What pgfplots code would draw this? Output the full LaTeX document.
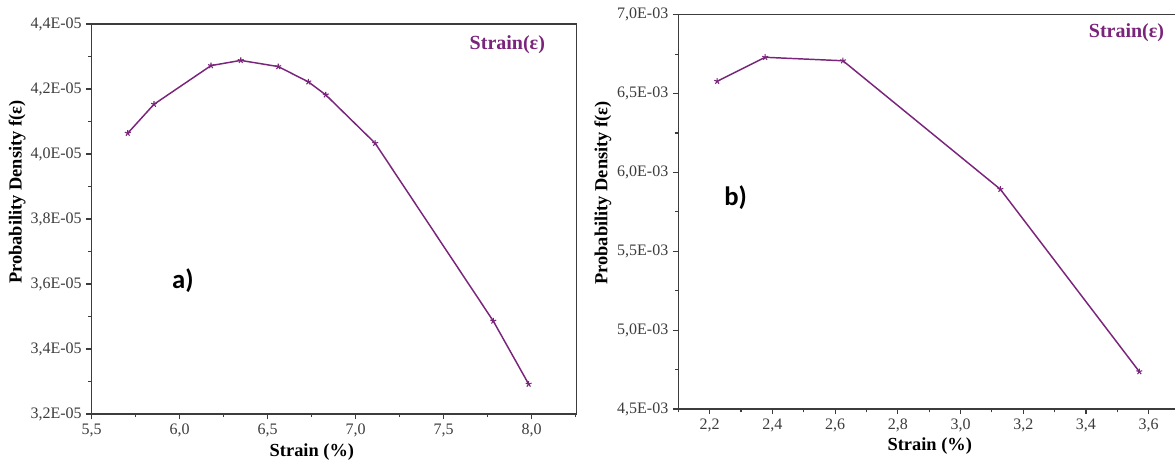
\documentclass[border=0pt]{standalone}
\usepackage{pgfplots}
\pgfplotsset{compat=1.18}
\usepackage{fontspec}
\setmainfont{Liberation Serif}
\newfontfamily\calib{Carlito}
\definecolor{purp}{RGB}{122,36,124}
\definecolor{axgray}{RGB}{60,60,60}
\pgfplotstableread{
x y
5.705 4.064e-5
5.854 4.153e-5
6.178 4.272e-5
6.347 4.288e-5
6.560 4.269e-5
6.731 4.222e-5
6.830 4.182e-5
7.111 4.033e-5
7.782 3.486e-5
7.983 3.292e-5
}\dataA
\pgfplotstableread{
x y
2.224 6.578e-3
2.377 6.730e-3
2.625 6.708e-3
3.127 5.893e-3
3.570 4.737e-3
}\dataB
\pgfplotsset{
  common/.style={
    scale only axis,
    anchor=south west,
    axis line style={axgray, line width=0.9pt},
    tick pos=left,
    tick align=outside,
    major tick length=4pt,
    minor tick length=2.5pt,
    every tick/.style={axgray, line width=0.8pt},
    ticklabel style={font=\fontsize{12}{14}\selectfont, text=axgray},
    label style={font=\fontsize{13.8}{16}\selectfont\bfseries},
    scaled y ticks=false,
    scaled x ticks=false,
    clip=false,
  },
}
\begin{document}
\begin{tikzpicture}
\useasboundingbox (0,0) rectangle (881.25pt,346.5pt);
% left panel
\begin{axis}[common,
  at={(68.775pt,36pt)},
  width=363.75pt, height=292.5pt,
  xmin=5.5, xmax=8.256,
  ymin=3.2e-5, ymax=4.4e-5,
  xtick={5.5,6.0,6.5,7.0,7.5,8.0},
  xticklabels={{5,5},{6,0},{6,5},{7,0},{7,5},{8,0}},
  minor xtick={5.75,6.25,6.75,7.25,7.75,8.25},
  ytick={3.2e-5,3.4e-5,3.6e-5,3.8e-5,4.0e-5,4.2e-5,4.4e-5},
  yticklabels={{3,2E-05},{3,4E-05},{3,6E-05},{3,8E-05},{4,0E-05},{4,2E-05},{4,4E-05}},
  minor ytick={3.3e-5,3.5e-5,3.7e-5,3.9e-5,4.1e-5,4.3e-5},
  xlabel={Strain (\%)},
  ylabel={Probability Density f(ε)},
  xlabel style={at={(axis description cs:0.454,0)}, anchor=center, yshift=-28.5pt},
  ylabel style={at={(axis description cs:0,0.569)}, anchor=center, yshift=56pt},
]
\addplot[purp, line width=1.1pt, mark=star, mark size=2.3pt, mark options={line width=0.8pt}] table[x=x,y=y]{\dataA};
\node[text=purp, font=\fontsize{15}{17}\selectfont\bfseries] at (rel axis cs:0.857,0.946) {Strain(ε)};
\node[font=\calib\bfseries\fontsize{20}{22}\selectfont] at (rel axis cs:0.188,0.341) {a)};
\end{axis}
% right panel
\begin{axis}[common,
  at={(508.725pt,39.75pt)},
  width=373.5pt, height=295.725pt,
  xmin=2.1, xmax=3.688,
  ymin=4.5e-3, ymax=7.0e-3,
  xtick={2.2,2.4,2.6,2.8,3.0,3.2,3.4,3.6},
  xticklabels={{2,2},{2,4},{2,6},{2,8},{3,0},{3,2},{3,4},{3,6}},
  minor xtick={2.1,2.3,2.5,2.7,2.9,3.1,3.3,3.5},
  ytick={4.5e-3,5.0e-3,5.5e-3,6.0e-3,6.5e-3,7.0e-3},
  yticklabels={{4,5E-03},{5,0E-03},{5,5E-03},{6,0E-03},{6,5E-03},{7,0E-03}},
  minor ytick={4.75e-3,5.25e-3,5.75e-3,6.25e-3,6.75e-3},
  xlabel={Strain (\%)},
  ylabel={Probability Density f(ε)},
  xlabel style={at={(axis description cs:0.505,0)}, anchor=center, yshift=-27.75pt},
  ylabel style={at={(axis description cs:0,0.548)}, anchor=center, yshift=56.5pt},
]
\addplot[purp, line width=1.1pt, mark=star, mark size=2.3pt, mark options={line width=0.8pt}] table[x=x,y=y]{\dataB};
\node[text=purp, font=\fontsize{15}{17}\selectfont\bfseries] at (rel axis cs:0.90,0.955) {Strain(ε)};
\node[font=\calib\bfseries\fontsize{20}{22}\selectfont] at (rel axis cs:0.115,0.536) {b)};
\end{axis}
\end{tikzpicture}
\end{document}
